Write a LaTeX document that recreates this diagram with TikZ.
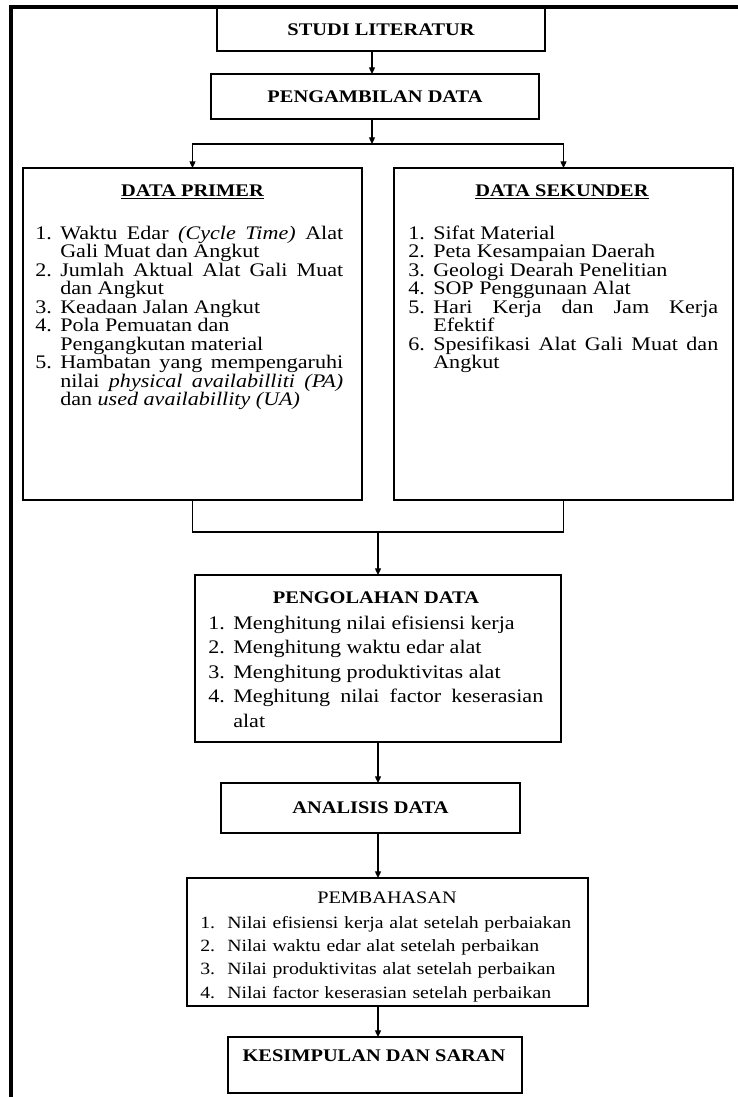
\documentclass[tikz,border=0pt]{standalone}
\usepackage{fontspec}
\setmainfont{Liberation Serif}[FakeStretch=1.15]
\usetikzlibrary{arrows.meta}

\newlength\numw
\newcommand{\litem}[2]{\hangindent=\numw\hangafter=1\noindent\makebox[\numw][l]{#1.}#2\par}

\tikzset{
  box/.style={draw, line width=1.1pt, inner sep=0pt, outer sep=0pt},
  head/.style={font=\fontsize{13.3}{16}\selectfont\bfseries},
  plainhead/.style={font=\fontsize{13.2}{16}\selectfont},
  listtxt/.style={anchor=base west, inner sep=0pt, align=justify, font=\fontsize{14.4}{13.9}\selectfont},
  arr/.style={-{Triangle[length=5pt,width=4.5pt]}, line width=0.9pt},
  con/.style={line width=0.9pt}
}

\begin{document}
\begin{tikzpicture}[x=0.75pt,y=0.75pt,yscale=-1,xscale=1]
\useasboundingbox (0,0) rectangle (738,1097);

%Frame
\draw[line width=2.8pt] (738,7) -- (11,7) -- (11,1097);

%Shape: Rectangle
\node[box, head, minimum width=246pt, minimum height=32.25pt] (studi) at (381,29.5) {STUDI LITERATUR};
%Shape: Rectangle
\node[box, head, minimum width=246pt, minimum height=33.75pt] (ambil) at (375,96.5) {PENGAMBILAN DATA};

%Shape: Rectangle
\node[box, minimum width=254.25pt, minimum height=249pt] (primer) at (192.5,334) {};
%Shape: Rectangle
\node[box, minimum width=254.25pt, minimum height=249pt] (sekunder) at (563.5,334) {};

%Shape: Rectangle
\node[box, minimum width=274.5pt, minimum height=125.25pt] (olah) at (378,658.5) {};
%Shape: Rectangle
\node[box, head, minimum width=224.25pt, minimum height=37.5pt] (analisis) at (370.5,808) {ANALISIS DATA};
%Shape: Rectangle
\node[box, minimum width=300.75pt, minimum height=96pt] (bahas) at (387.5,942) {};
%Shape: Rectangle
\node[box, minimum width=220.5pt, minimum height=42pt] (simpul) at (375,1065) {};

% Text Node
\node[head, anchor=base] (primerjdl) at (192.5,196) {\underline{DATA PRIMER}};
% Text Node
\node[listtxt, text width=231pt] (primerisi) at (35,239) {\setlength\numw{18.75pt}%
\litem{1}{Waktu Edar \textit{(Cycle Time)} Alat\linebreak Gali Muat dan Angkut}%
\litem{2}{Jumlah Aktual Alat Gali Muat\linebreak dan Angkut}%
\litem{3}{Keadaan Jalan Angkut}%
\litem{4}{Pola Pemuatan dan\newline Pengangkutan material}%
\litem{5}{Hambatan yang mempengaruhi\linebreak nilai \textit{physical availabilliti (PA)}\linebreak dan \textit{used availabillity (UA)}}};

% Text Node
\node[head, anchor=base] (sekunderjdl) at (562,196) {\underline{DATA SEKUNDER}};
% Text Node
\node[listtxt, text width=232.5pt] (sekunderisi) at (408,239) {\setlength\numw{18.75pt}%
\litem{1}{Sifat Material}%
\litem{2}{Peta Kesampaian Daerah}%
\litem{3}{Geologi Dearah Penelitian}%
\litem{4}{SOP Penggunaan Alat}%
\litem{5}{Hari Kerja dan Jam Kerja\linebreak Efektif}%
\litem{6}{Spesifikasi Alat Gali Muat dan\linebreak Angkut}};

% Text Node
\node[head, anchor=base] (olahjdl) at (376,603) {PENGOLAHAN DATA};
% Text Node
\node[listtxt, text width=251.25pt, font=\fontsize{14.4}{18.4}\selectfont] (olahisi) at (208,629) {\setlength\numw{18.75pt}%
\litem{1}{Menghitung nilai efisiensi kerja}%
\litem{2}{Menghitung waktu edar alat}%
\litem{3}{Menghitung produktivitas alat}%
\litem{4}{Meghitung nilai factor keserasian\linebreak alat}};

% Text Node
\node[plainhead, anchor=base] (bahasjdl) at (387,903) {PEMBAHASAN};
% Text Node
\node[listtxt, text width=300pt, align=left, font=\fontsize{12.9}{17.6}\selectfont] (bahasisi) at (200,928) {\setlength\numw{20.25pt}\hyphenpenalty=10000%
\litem{1}{Nilai efisiensi kerja alat setelah perbaiakan}%
\litem{2}{Nilai waktu edar alat setelah perbaikan}%
\litem{3}{Nilai produktivitas alat setelah perbaikan}%
\litem{4}{Nilai factor keserasian setelah perbaikan}};

% Text Node
\node[head, anchor=base] (simpuljdl) at (374,1061) {KESIMPULAN DAN SARAN};

%Connectors
\coordinate (split) at (372,144);
\coordinate (join) at (378,532);
\draw[arr] (studi.south -| split) -- (ambil.north -| split);
\draw[arr] (ambil.south -| split) -- (split);
\draw[arr] (split) -| (primer.north);
\draw[arr] (split) -| (sekunder.north);
\draw[con] (primer.south) |- (join) -| (sekunder.south);
\draw[arr] (join) -- (olah.north);
\draw[arr] (olah.south) -- (olah.south |- analisis.north);
\draw[arr] (olah.south |- analisis.south) -- (olah.south |- bahas.north);
\draw[arr] (olah.south |- bahas.south) -- (olah.south |- simpul.north);

\end{tikzpicture}
\end{document}
